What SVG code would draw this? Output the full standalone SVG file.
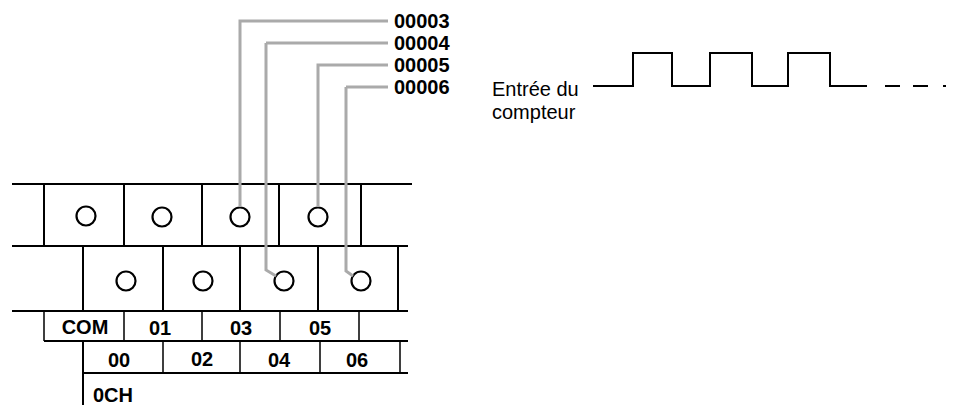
<svg xmlns="http://www.w3.org/2000/svg" width="953" height="412" viewBox="0 0 953 412">
<style>
.l{stroke:#000;stroke-width:2;fill:none}
.t{stroke:#000;stroke-width:1.5;fill:none}
.c{stroke:#000;stroke-width:2.2;fill:#fff}
.w{stroke:#aaa;stroke-width:3;fill:none}
text{font-family:"Liberation Sans",Arial,sans-serif;font-size:20px;fill:#000}
.b{font-weight:bold}
</style>
<rect width="953" height="412" fill="#fff"/>
<g id="terminal">
<path class="l" d="M12 184H412M12 246H408M12 311H408M44 341H408M83 373H408"/>
<path class="l" d="M44 184V246M124 184V246M202 184V246M279 184V246M361 184V246"/>
<path class="l" d="M83 246V311M163 246V311M240 246V311M318 246V311M398 246V311"/>
<path class="t" d="M44 311V341M124 311V341M202 311V341M280 311V341M359 311V341"/>
<path class="t" d="M163 341V373M240 341V373M320 341V373M400 341V373"/>
<path class="l" d="M83 341V405"/>
<circle class="c" cx="86" cy="216" r="9.5"/><circle class="c" cx="162" cy="217" r="9.5"/>
<circle class="c" cx="240" cy="217" r="9.5"/><circle class="c" cx="318" cy="217" r="9.5"/>
<circle class="c" cx="126" cy="281" r="9.5"/><circle class="c" cx="203" cy="281" r="9.5"/>
<circle class="c" cx="284" cy="281" r="9.5"/><circle class="c" cx="361" cy="281" r="9.5"/>
<g text-anchor="middle" class="b">
<text x="85" y="334">COM</text><text x="160" y="335">01</text><text x="241" y="335">03</text><text x="320" y="335">05</text>
<text x="119" y="367">00</text><text x="202" y="366">02</text><text x="279" y="367">04</text><text x="357" y="367">06</text>
</g>
<text class="b" x="93" y="402">0CH</text>
</g>
<g id="connectors">
<path class="w" d="M240 207V21H388"/>
<path class="w" d="M266 43H388M266 43V270L276 276"/>
<path class="w" d="M318 207V65H388"/>
<path class="w" d="M346 87H388M346 87V271L353 276"/>
</g>
<g id="labels" class="b">
<text x="394" y="28">00003</text><text x="394" y="50">00004</text>
<text x="394" y="72">00005</text><text x="394" y="94">00006</text>
</g>
<g id="waveform">
<text x="492" y="96">Entrée du</text><text x="492" y="119">compteur</text>
<path class="l" d="M593 86H633V53H672V86H710V53H752V86H788V53H830V86H867"/>
<path class="l" d="M885 86H900M913 86H928M943 86H946"/>
</g>
</svg>
